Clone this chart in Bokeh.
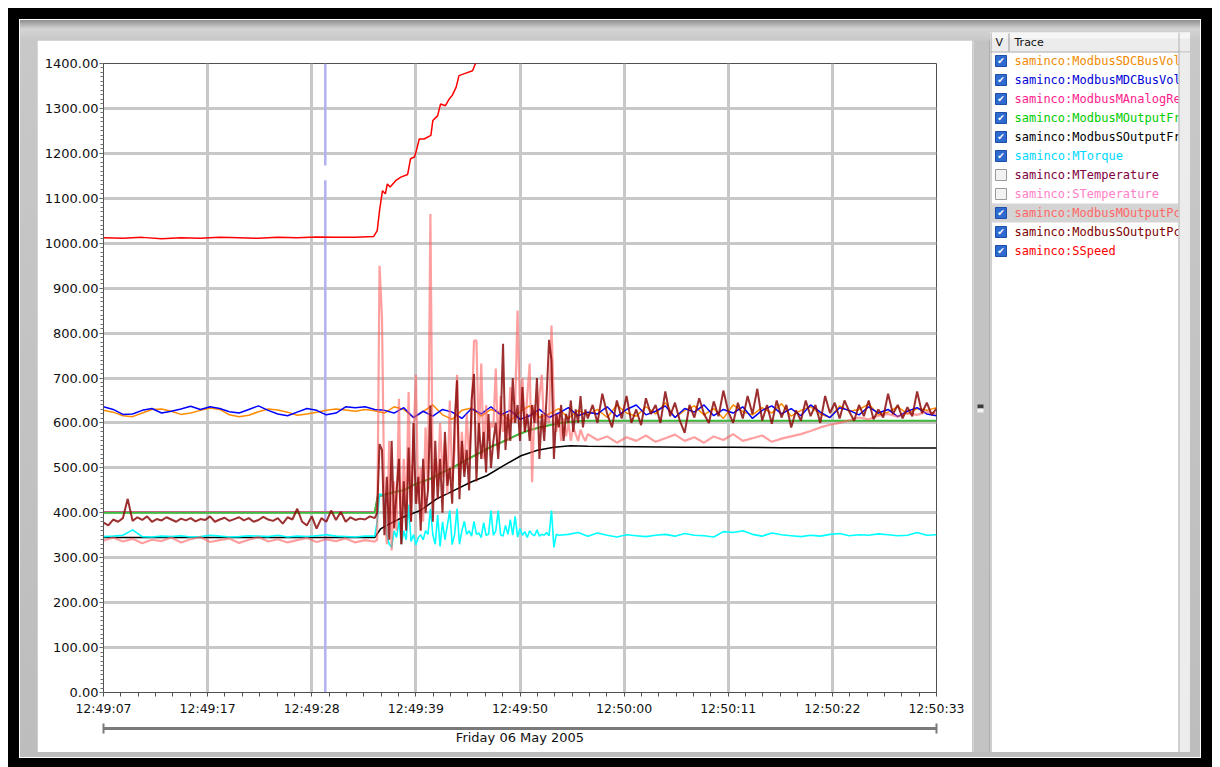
import numpy as np
from bokeh.plotting import figure
from bokeh.layouts import row, column
from bokeh.models import Range1d, LinearAxis, FixedTicker, PrintfTickFormatter
from bokeh.core.properties import value
from bokeh.embed import file_html
from bokeh.resources import INLINE

# ---------------- data (seconds after 12:49:07) ----------------
x_tick_times = [0, 10.75, 21.5, 32.25, 43, 53.75, 64.5, 75.25, 86]
x_tick_labels = ["12:49:07", "12:49:17", "12:49:28", "12:49:39", "12:49:50",
                 "12:50:00", "12:50:11", "12:50:22", "12:50:33"]
date_label = "Friday 06 May 2005"
y_ticks = list(range(0, 1401, 100))

cursor_t = 22.9
cursor_gap = [1140, 1173]

# SDCBusVol (orange), 1 s samples from t=0
orange_v = [628, 624, 616, 614, 622, 630, 631, 626, 619, 622, 628, 633, 630, 618, 614, 617, 625, 631, 629, 624,
            617, 620, 624, 628, 631, 629, 626, 630, 627,
            622, 636, 630, 612, 625, 640, 618, 608, 628, 633, 615, 630, 622, 604, 626, 638, 612, 620, 632, 610,
            628, 618,
            630, 612, 640, 622, 615, 636, 620, 645, 612, 628, 638, 618, 632, 610, 640, 625, 618, 634, 622, 643,
            615, 628, 636, 620, 612, 638, 626, 630, 642, 618, 624, 636, 620, 632, 628, 634]
# MDCBusVol (blue), 1 s samples from t=0
blue_v = [636, 630, 619, 620, 628, 632, 622, 626, 631, 637, 630, 636, 632, 625, 622, 630, 638, 628, 620, 616,
          624, 632, 628, 618, 622, 636, 634, 636, 630,
          628, 622, 634, 612, 626, 615, 630, 624, 610, 632, 620, 636, 618, 628, 608, 616, 630, 612, 622, 634,
          616, 624,
          620, 636, 614, 630, 640, 618, 626, 638, 612, 632, 624, 640, 616, 630, 622, 636, 610, 628, 638, 620,
          632, 616, 640, 624, 612, 634, 628, 618, 636, 622, 630, 614, 626, 634, 620, 616]

# MOutputFr (green) and MAnalogRe (magenta)
green_t = [0, 28.0, 28.3, 29, 30, 31, 32, 33, 34, 35, 36, 37, 38, 39, 40, 41, 42, 43, 44, 45, 46, 47, 48, 49,
           50, 52, 86]
green_v = [400, 400, 436, 440, 446, 450, 462, 470, 478, 490, 500, 512, 524, 535, 547, 556, 566, 576, 584, 590,
           595, 599, 602, 604, 605, 605, 605]
magenta_v = [402, 402, 436, 440, 446, 450, 462, 470, 478, 490, 500, 512, 524, 535, 547, 556, 566, 576, 584, 590,
             595, 599, 602, 604, 605, 605, 605]

# SOutputFr (black)
black_t = [0, 28.0, 28.6, 29.5, 30.9, 32.7, 34.4, 36.2, 37.9, 39.6, 41.3, 43.1, 44.8, 46.5, 48.2, 50, 55, 60,
           65, 70, 75, 80, 86]
black_v = [345, 345, 364, 375, 390, 405, 431, 450, 468, 483, 505, 527, 539, 546, 549, 548, 547, 546, 546, 545,
           545, 544, 544]

# MTorque (cyan): 1 s to 28, 0.25 s from 28.25 to 47, 1 s from 48
cyan_pre = [347, 348, 350, 362, 347, 346, 348, 347, 349, 346, 347, 350, 348, 346, 347, 349, 348, 347, 350, 346,
            348, 347, 349, 351, 348, 347, 346, 348, 348]
cyan_mid = [380, 442, 440, 438, 350, 330, 323, 360, 345, 381, 330, 360, 340, 418, 336, 351, 329, 345, 351, 340,
            360, 352, 409, 351, 330, 395, 325, 380, 340, 372, 405, 329, 352, 409, 330, 360, 381, 352, 360, 348,
            381, 352, 355, 345, 378, 350, 352, 405, 350, 360, 405, 351, 348, 372, 352, 385, 350, 392, 346, 365,
            350, 358, 345, 360, 352, 349, 362, 348, 352, 350, 356, 349, 405, 323, 352, 350]
cyan_post = [352, 356, 348, 355, 350, 346, 351, 349, 347, 350, 352, 348, 354, 350, 349, 346, 358, 356, 360, 352,
             348, 355, 351, 349, 347, 350, 348, 352, 354, 349, 351, 350, 353, 351, 349, 350, 356, 350, 351]

# ModbusMOutputPc (salmon): 1 s to 28, 0.25 s from 28.25 to 50, 1 s from 51
salmon_pre = [338, 345, 336, 342, 332, 340, 337, 345, 334, 341, 346, 335, 339, 343, 333, 340, 346, 336, 341, 334,
              339, 344, 335, 341, 337, 343, 334, 339, 336]
salmon_mid = [340, 950, 835, 420, 330, 560, 316, 470, 360, 654, 330, 520, 400, 669, 380, 560, 707, 420, 500, 380,
              590, 450, 1065, 430, 520, 460, 600, 480, 560, 440, 650, 470, 540, 707, 460, 580, 490, 620, 520, 600,
              783, 783, 560, 732, 520, 640, 560, 600, 590, 721, 540, 660, 580, 620, 560, 680, 600, 640, 850, 620,
              700, 580, 660, 732, 468, 640, 600, 660, 707, 580, 620, 600, 817, 640, 580, 620, 560, 610, 570, 600,
              560, 590, 575, 560, 585, 570, 560, 575]
salmon_post = [562, 570, 556, 568, 560, 572, 558, 566, 574, 560, 568, 556, 570, 562, 575, 560, 566, 572, 558, 565,
               570, 575, 582, 590, 596, 600, 606, 612, 608, 616, 620, 614, 622, 618, 625, 620]

# ModbusSOutputPc (maroon): 0.5 s to 28, 0.25 s from 28.25 to 50, 0.5 s from 50.5
maroon_pre = [378, 372, 385, 380, 388, 431, 382, 390, 384, 392, 380, 386, 383, 390, 385, 380, 387, 383, 388, 381,
              386, 384, 392, 380, 385, 389, 382, 386, 390, 383, 388, 380, 384, 391, 385, 382, 388, 376, 390, 385,
              409, 380, 372, 392, 365, 388, 380, 405, 384, 402, 380, 390, 384, 387, 385, 392, 388]
maroon_mid = [400, 553, 540, 350, 480, 340, 560, 365, 445, 520, 330, 470, 360, 545, 380, 600, 420, 480, 360, 520,
              400, 450, 639, 380, 560, 430, 520, 400, 580, 460, 500, 420, 600, 695, 430, 560, 480, 540, 450, 650,
              709, 470, 600, 520, 580, 490, 620, 500, 560, 600, 520, 600, 776, 540, 620, 560, 700, 600, 640, 560,
              680, 580, 620, 560, 640, 600, 700, 520, 620, 560, 660, 785, 740, 520, 620, 590, 640, 560, 620, 600,
              650, 580, 630, 600, 660, 590, 630, 610]
maroon_post = [640, 600, 665, 620, 590, 650, 610, 660, 600, 630, 595, 655, 620, 640, 600, 670, 615, 645, 605, 578,
               640, 612, 655, 620, 600, 648, 615, 672, 625, 600, 645, 610, 660, 620, 676, 605, 640, 598, 650, 612,
               640, 590, 628, 605, 650, 615, 640, 600, 660, 622, 645, 610, 650, 625, 605, 640, 615, 650, 608, 630,
               612, 665, 620, 640, 610, 635, 615, 670, 622, 645, 618, 632]

# SSpeed (red)
red_t = [0, 2, 4, 6, 8, 10, 12, 14, 16, 18, 20, 22, 24, 26, 27.9, 28.26, 28.5, 28.8, 29.1, 29.3, 29.6, 30.2,
         30.7, 31.4, 31.7, 32.1, 32.3, 32.6, 33.1, 33.8, 34.0, 34.5, 34.8, 35.3, 35.7, 36.0, 36.4, 36.7, 37.2,
         38.1, 38.4, 38.9, 40]
red_v = [1012, 1011, 1013, 1010, 1012, 1011, 1013, 1012, 1011, 1013, 1012, 1014, 1013, 1013, 1015, 1028, 1073,
         1117, 1110, 1132, 1125, 1140, 1147, 1153, 1188, 1192, 1206, 1232, 1232, 1240, 1273, 1284, 1310, 1306,
         1321, 1329, 1347, 1373, 1377, 1384, 1400, 1420, 1440]

legend_names = ["saminco:ModbusSDCBusVol", "saminco:ModbusMDCBusVol", "saminco:ModbusMAnalogRe",
                "saminco:ModbusMOutputFr", "saminco:ModbusSOutputFr", "saminco:MTorque",
                "saminco:MTemperature", "saminco:STemperature", "saminco:ModbusMOutputPc",
                "saminco:ModbusSOutputPc", "saminco:SSpeed"]
legend_colors = ["#f08a00", "#0000d8", "#ff1a8c", "#00cc00", "#000000", "#00d8ff",
                 "#800040", "#ff80c8", "#ff6868", "#800000", "#ff0000"]
legend_checked = [1, 1, 1, 1, 1, 1, 0, 0, 1, 1, 1]
legend_selected = 8


def grid(start, step, n):
    return start + step * np.arange(n)


orange_t = grid(0, 1, len(orange_v))
blue_t = grid(0, 1, len(blue_v))
cyan_t = np.concatenate([grid(0, 1, len(cyan_pre)), grid(28.25, 0.25, len(cyan_mid)),
                         grid(48, 1, len(cyan_post))])
cyan_v = cyan_pre + cyan_mid + cyan_post
salmon_t = np.concatenate([grid(0, 1, len(salmon_pre)), grid(28.25, 0.25, len(salmon_mid)),
                           grid(51, 1, len(salmon_post))])
salmon_v = salmon_pre + salmon_mid + salmon_post
maroon_t = np.concatenate([grid(0, 0.5, len(maroon_pre)), grid(28.25, 0.25, len(maroon_mid)),
                           grid(50.5, 0.5, len(maroon_post))])
maroon_v = maroon_pre + maroon_mid + maroon_post

# ---------------- chart figure ----------------
p = figure(width=935, height=712, x_range=Range1d(0, 86), y_range=Range1d(0, 1400),
           output_backend="svg", toolbar_location=None, tools="",
           min_border_left=66, min_border_right=36, min_border_top=23, min_border_bottom=60,
           border_fill_color="white", background_fill_color="white",
           outline_line_color="#505050", outline_line_width=1, margin=(20, 0, 5, 17),
           frame_align=False)

TICK_FONT = "DejaVu Sans"

xa = p.xaxis[0]
minor_x = []
for a, b in zip(x_tick_times[:-1], x_tick_times[1:]):
    minor_x += [a + (b - a) * k / 6 for k in range(1, 6)]
xa.ticker = FixedTicker(ticks=x_tick_times, minor_ticks=minor_x)
xa.major_label_overrides = {t: lab for t, lab in zip(x_tick_times, x_tick_labels)}
xa.axis_line_color = "#505050"
xa.major_tick_in = 0
xa.major_tick_out = 4
xa.minor_tick_in = 0
xa.minor_tick_out = 4
xa.major_tick_line_color = "#505050"
xa.minor_tick_line_color = "#505050"
xa.major_label_standoff = 4
xa.major_label_text_font = TICK_FONT
xa.major_label_text_font_size = "12.5px"
xa.major_label_text_color = "#111111"
xa.axis_label = " "
xa.axis_label_text_font_size = "7px"
xa.axis_label_standoff = 0

xa2 = LinearAxis(ticker=FixedTicker(ticks=[0, 86], minor_ticks=[]))
xa2.major_label_overrides = {0: "", 86: ""}
xa2.major_label_text_font_size = "1px"
xa2.major_label_standoff = 0
xa2.axis_line_color = "#7a7a7a"
xa2.axis_line_width = 3
xa2.major_tick_in = 5
xa2.major_tick_out = 5
xa2.major_tick_line_color = "#7a7a7a"
xa2.major_tick_line_width = 2
xa2.minor_tick_line_color = None
xa2.axis_label = date_label
xa2.axis_label_standoff = -4
xa2.axis_label_text_font = TICK_FONT
xa2.axis_label_text_font_size = "13px"
xa2.axis_label_text_font_style = "normal"
xa2.axis_label_text_color = "#111111"
p.add_layout(xa2, "below")

ya = p.yaxis[0]
ya.ticker = FixedTicker(ticks=y_ticks, minor_ticks=list(range(0, 1401, 10)))
ya.formatter = PrintfTickFormatter(format="%.2f")
ya.axis_line_color = "#505050"
ya.major_tick_in = 0
ya.major_tick_out = 4
ya.minor_tick_in = 0
ya.minor_tick_out = 3
ya.major_tick_line_color = "#505050"
ya.minor_tick_line_color = "#707070"
ya.major_label_standoff = 1
ya.major_label_text_font = TICK_FONT
ya.major_label_text_font_size = "13px"
ya.major_label_text_color = "#111111"

p.xgrid.ticker = FixedTicker(ticks=x_tick_times)
p.ygrid.ticker = FixedTicker(ticks=y_ticks)
p.xgrid.grid_line_color = "#c8c8c8"
p.ygrid.grid_line_color = "#c8c8c8"
p.xgrid.grid_line_width = 3
p.ygrid.grid_line_width = 3

# cursor
p.segment(x0=[cursor_t, cursor_t], y0=[0, cursor_gap[1]], x1=[cursor_t, cursor_t],
          y1=[cursor_gap[0], 1400], line_color="#b0b0f2", line_width=2.5)

# traces
p.line(orange_t, orange_v, line_color="#ff8c00", line_width=1.5)
p.line(blue_t, blue_v, line_color="#0000ff", line_width=1.5)
p.line(green_t, magenta_v, line_color="#ff1a8c", line_width=1.5)
p.line(green_t, green_v, line_color="#3cbf3c", line_width=2)
p.line(black_t, black_v, line_color="#000000", line_width=1.5)
p.line(cyan_t, cyan_v, line_color="#00ffff", line_width=1.6)
p.line(salmon_t, salmon_v, line_color="#ff5f5f", line_width=2.2, line_alpha=0.6)
p.line(maroon_t, maroon_v, line_color="#8b0a0a", line_width=2, line_alpha=0.85)
p.line(red_t, red_v, line_color="#ff0000", line_width=1.5)

# ---------------- gap strip with scrollbar button ----------------
g = figure(width=18, height=712, x_range=Range1d(0, 18), y_range=Range1d(712, 0),
           output_backend="svg", toolbar_location=None, tools="", min_border=0,
           x_axis_type=None, y_axis_type=None, outline_line_color=None,
           background_fill_color="#c3c3c3", border_fill_color="#c3c3c3", margin=(20, 0, 5, 0),
           frame_align=False)
g.quad(left=[0], right=[1], top=[0], bottom=[712], fill_color="#e6e6e6", line_color=None)
g.quad(left=[17], right=[18], top=[0], bottom=[712], fill_color="#9a9a9a", line_color=None)
g.quad(left=[5], right=[11], top=[364], bottom=[368], fill_color="#3c3c3c", line_color=None)
g.quad(left=[5], right=[11], top=[368], bottom=[372], fill_color="#f4f4f4", line_color=None)

# ---------------- legend panel ----------------
L = figure(width=200, height=720, x_range=Range1d(0, 200), y_range=Range1d(720, 0),
           output_backend="svg", toolbar_location=None, tools="", min_border=0,
           x_axis_type=None, y_axis_type=None, outline_line_color=None,
           background_fill_color="white", border_fill_color="white", margin=(12, 10, 5, 0),
           frame_align=False)
L.quad(left=[0], right=[200], top=[0], bottom=[19], fill_color="#ececec", line_color=None)
L.quad(left=[0], right=[200], top=[0], bottom=[6], fill_color="#f6f6f6", line_color=None)
L.quad(left=[0], right=[200], top=[19], bottom=[20], fill_color="#a8a8a8", line_color=None)
L.quad(left=[18], right=[19], top=[1], bottom=[19], fill_color="#9a9a9a", line_color=None)
L.quad(left=[0], right=[1], top=[0], bottom=[720], fill_color="#a0a0a0", line_color=None)
L.text(x=[5, 24], y=[10, 10], text=["V", "Trace"], text_color="#111111",
       text_font=value("DejaVu Sans"), text_font_size="11px", text_baseline="middle")

row_y = [28 + 19 * i for i in range(len(legend_names))]
sel_y = row_y[legend_selected]
L.quad(left=[1], right=[188], top=[sel_y - 9], bottom=[sel_y + 10], fill_color="#d4d4d4", line_color=None)

on_y = [y for y, c in zip(row_y, legend_checked) if c]
off_y = [y for y, c in zip(row_y, legend_checked) if not c]
L.quad(left=[5] * len(on_y), right=[16] * len(on_y), top=[y - 5 for y in on_y], bottom=[y + 6 for y in on_y],
       fill_color="#2f6ad0", line_color="#1d4fa8", line_width=1)
L.text(x=[10.5] * len(on_y), y=[y + 0.5 for y in on_y], text=["\u2714"] * len(on_y), text_color="#ffffff",
       text_font=value("DejaVu Sans"), text_font_size="9px", text_align="center", text_baseline="middle")
L.quad(left=[5] * len(off_y), right=[16] * len(off_y), top=[y - 5 for y in off_y],
       bottom=[y + 6 for y in off_y], fill_color="#f2f2f2", line_color="#9a9a9a", line_width=1)

L.text(x=[24] * len(legend_names), y=row_y, text=legend_names, text_color=legend_colors,
       text_font=value("DejaVu Sans Mono"), text_font_size="12px", text_baseline="middle")

L.quad(left=[188], right=[200], top=[20], bottom=[720], fill_color="#ececec", line_color=None)
L.quad(left=[188], right=[189], top=[0], bottom=[720], fill_color="#b0b0b0", line_color=None)

# ---------------- window chrome via layout ----------------
C = row(p, g, L, spacing=0, margin=(1, 1, 1, 1),
        styles={"background": "linear-gradient(to bottom, #8e8e8e 0px, #d4d4d4 9px, #c8c8c8 20px, #bdbdbd 100%)"})
B = column(C, spacing=0, margin=(11, 11, 9, 11), styles={"background-color": "#ffffff"})
A = column(B, spacing=0, margin=(8, 8, 0, 8), styles={"background-color": "#000000"})
root = column(A, spacing=0, styles={"background-color": "#ffffff"})

open("out.html", "w").write(file_html(root, INLINE))
